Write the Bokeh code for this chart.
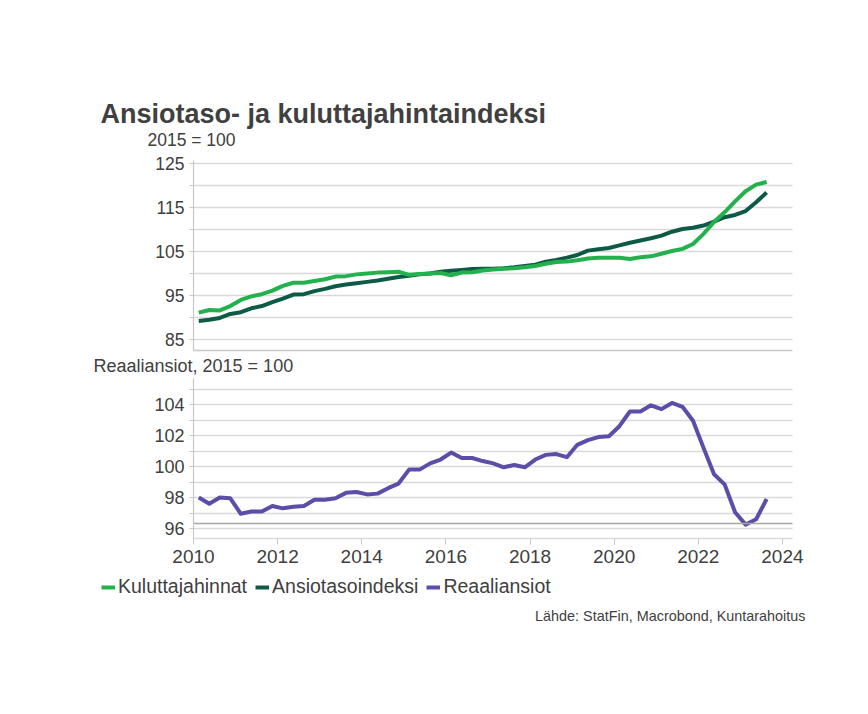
from bokeh.plotting import figure
from bokeh.models import (Range1d, FixedTicker, LinearAxis, Grid, Legend, LegendItem)
from bokeh.core.properties import value
from bokeh.embed import file_html
from bokeh.resources import INLINE

# ---------------- data (quarterly, 2015 = 100) ----------------
years = list(range(2010, 2024))
quarters = [f"{y}Q{q}" for y in years for q in (1, 2, 3, 4)][:55]
t = [int(s[:4]) + (int(s[-1]) - 0.5) / 4 for s in quarters]

kuluttajahinnat = [
    91.1, 91.7, 91.6, 92.6,
    94.0, 94.8, 95.3, 96.1,
    97.2, 97.9, 97.9, 98.3,
    98.7, 99.3, 99.4, 99.8,
    100.0, 100.2, 100.3, 100.4,
    99.7, 99.9, 100.0, 100.1,
    99.6, 100.2, 100.3, 100.7,
    100.9, 101.1, 101.2, 101.4,
    101.7, 102.2, 102.6, 102.7,
    103.0, 103.4, 103.6, 103.6,
    103.6, 103.3, 103.7, 103.9,
    104.5, 105.1, 105.6, 106.7,
    109.0, 111.7, 113.9, 116.4,
    118.7, 120.2, 120.8,
]
ansiotasoindeksi = [
    89.2, 89.5, 89.9, 90.8,
    91.2, 92.1, 92.6, 93.5,
    94.3, 95.2, 95.3, 96.0,
    96.5, 97.1, 97.5, 97.8,
    98.1, 98.4, 98.8, 99.2,
    99.5, 99.8, 100.0, 100.4,
    100.6, 100.8, 101.0, 101.1,
    101.1, 101.2, 101.4, 101.7,
    102.0, 102.7, 103.1, 103.6,
    104.2, 105.2, 105.5, 105.8,
    106.4, 107.0, 107.5, 108.0,
    108.6, 109.5, 110.1, 110.4,
    110.9, 111.8, 112.8, 113.3,
    114.2, 116.2, 118.4,
]
reaaliansiot = [
    98.0, 97.6, 98.0, 97.95,
    96.95, 97.1, 97.1, 97.45,
    97.3, 97.4, 97.45, 97.85,
    97.85, 97.95, 98.3, 98.35,
    98.2, 98.25, 98.6, 98.9,
    99.8, 99.8, 100.2, 100.45,
    100.9, 100.55, 100.55, 100.35,
    100.2, 99.95, 100.1, 99.95,
    100.45, 100.75, 100.8, 100.6,
    101.4, 101.7, 101.9, 101.95,
    102.6, 103.55, 103.55, 103.95,
    103.7, 104.1, 103.85, 102.95,
    101.2, 99.5, 98.85, 97.05,
    96.25, 96.6, 97.9,
]
x_ticks = [2010, 2012, 2014, 2016, 2018, 2020, 2022, 2024]
top_ticks = [85, 95, 105, 115, 125]
top_minor = [90, 100, 110, 120]
top_grid = [85, 90, 95, 100, 105, 110, 115, 120, 125]
bot_ticks = [96, 98, 100, 102, 104]
bot_minor = [97, 99, 101, 103, 105]
bot_grid = [96, 97, 98, 99, 100, 101, 102, 103, 104, 105]

title_text = "Ansiotaso- ja kuluttajahintaindeksi"
top_unit = "2015 = 100"
bot_unit = "Reaaliansiot, 2015 = 100"
source_text = "Lähde: StatFin, Macrobond, Kuntarahoitus"
labels = ["Kuluttajahinnat", "Ansiotasoindeksi", "Reaaliansiot"]

# ---------------- style / layout (page pixels) ----------------
FONT = "Liberation Sans"
TXT = "#404040"
GRID = "#d9d9d9"
AXL = "#c8c8c8"
C_CPI = "#22b14c"
C_WAGE = "#0d5a46"
C_REAL = "#5b4ea8"

W, H = 868, 714
X_LEFT, X_RIGHT = 193, 792          # plot area left/right in px
X_START, X_END = 2010, 2024.24      # years at those edges
ppy = (X_RIGHT - X_LEFT) / (X_END - X_START)

# top panel: 125 at px 163, 4.4 px per unit, area px 160..351
T_REF, T_REF_PX, T_PPU = 125, 163, 4.4
T_BOUNDS = (82.5, 125.7)
# bottom panel: 104 at px 404, 15.5 px per unit, area px 378..538
B_REF, B_REF_PX, B_PPU = 104, 404, 15.5
B_BOUNDS = (95.35, 105.68)


def page_range(ref, ref_px, ppu):
    return Range1d(ref - (H - ref_px) / ppu, ref + ref_px / ppu)


p = figure(width=W, height=H,
           x_range=Range1d(X_START - X_LEFT / ppy, X_END + (W - X_RIGHT) / ppy),
           y_range=Range1d(H, 0),
           x_axis_location=None, y_axis_location=None,
           output_backend="svg", toolbar_location=None, min_border=0)
p.extra_x_ranges = {"px": Range1d(0, W)}
p.extra_y_ranges = {"top": page_range(T_REF, T_REF_PX, T_PPU),
                    "bot": page_range(B_REF, B_REF_PX, B_PPU)}
p.center = [r for r in p.center if not isinstance(r, Grid)]
p.outline_line_color = None
p.background_fill_color = "white"


def y_axis(rng, bounds, ticks, minor, size):
    ax = LinearAxis(y_range_name=rng, fixed_location=X_START, bounds=bounds,
                    ticker=FixedTicker(ticks=ticks, minor_ticks=minor))
    ax.axis_line_color = AXL
    ax.axis_line_width = 1.2
    ax.major_tick_line_color = AXL
    ax.minor_tick_line_color = AXL
    ax.major_tick_in = 0
    ax.major_tick_out = 4
    ax.minor_tick_in = 0
    ax.minor_tick_out = 4
    ax.major_label_standoff = 5
    ax.major_label_text_font = FONT
    ax.major_label_text_font_size = size
    ax.major_label_text_color = TXT
    p.add_layout(ax, "left")


def h_rule(rng, loc, color, ticks=None, labelled=False):
    ax = LinearAxis(y_range_name=rng, fixed_location=loc, bounds=(X_START, X_END),
                    ticker=FixedTicker(ticks=ticks or [], minor_ticks=[]))
    ax.axis_line_color = color
    ax.axis_line_width = 1.5
    ax.major_tick_line_color = AXL
    ax.major_tick_in = 0
    ax.major_tick_out = 6
    ax.minor_tick_out = 0
    ax.minor_tick_in = 0
    ax.major_label_standoff = 5
    ax.major_label_text_font = FONT
    ax.major_label_text_font_size = "19px" if labelled else "0px"
    ax.major_label_text_color = TXT
    p.add_layout(ax, "below")


def grid(rng, ticks, bounds):
    g = Grid(dimension=1, y_range_name=rng, ticker=FixedTicker(ticks=ticks),
             bounds=bounds, cross_bounds=(X_START, X_END),
             grid_line_color=GRID, grid_line_width=1.5)
    p.add_layout(g, "center")


grid("top", top_grid, T_BOUNDS)
grid("bot", bot_grid, B_BOUNDS)
y_axis("top", T_BOUNDS, top_ticks, top_minor, "17.5px")
y_axis("bot", B_BOUNDS, bot_ticks, bot_minor, "18px")
h_rule("top", T_BOUNDS[0], AXL)
h_rule("bot", 96.3, "#a6a6a6")
h_rule("bot", B_BOUNDS[0], GRID, ticks=x_ticks, labelled=True)

# ---------------- series ----------------
r_wage = p.line(t, ansiotasoindeksi, y_range_name="top", line_color=C_WAGE,
                line_width=4, line_join="round")
r_cpi = p.line(t, kuluttajahinnat, y_range_name="top", line_color=C_CPI,
               line_width=4, line_join="round")
r_real = p.line(t, reaaliansiot, y_range_name="bot", line_color=C_REAL,
                line_width=4, line_join="round")

# ---------------- texts ----------------
def txt(x, y, s, size, bold=False, align="left"):
    p.text(x=[x], y=[y], text=[s], x_range_name="px", text_font=value(FONT),
           text_font_size=value(size), text_font_style="bold" if bold else "normal",
           text_color=TXT, text_align=align, text_baseline="middle")


txt(100, 113, title_text, "27px", bold=True)
txt(147, 139, top_unit, "17.5px")
txt(93, 365, bot_unit, "18px")
txt(805, 615, source_text, "14.4px", align="right")

legend = Legend(items=[LegendItem(label=labels[0], renderers=[r_cpi]),
                       LegendItem(label=labels[1], renderers=[r_wage]),
                       LegendItem(label=labels[2], renderers=[r_real])],
                orientation="horizontal", location=(101, H - 598),
                glyph_width=14, glyph_height=20, label_height=20, label_standoff=3,
                spacing=8, padding=0, margin=0, border_line_color=None,
                background_fill_alpha=0, label_text_font=FONT,
                label_text_font_size="19.5px", label_text_color=TXT)
p.add_layout(legend, "center")

open("out.html", "w").write(file_html(p, INLINE))
